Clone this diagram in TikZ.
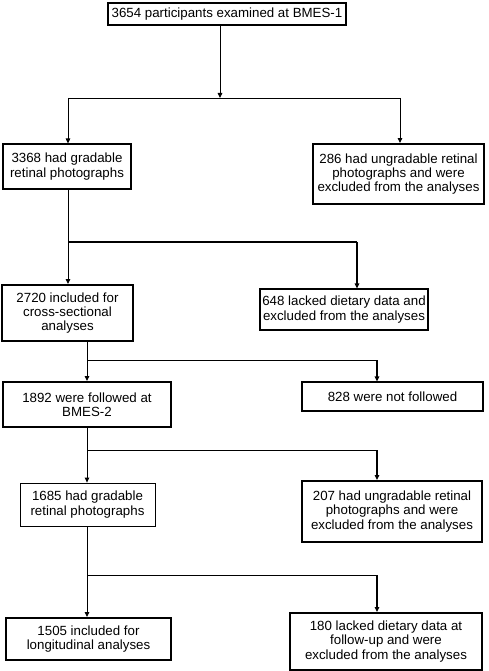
\documentclass[tikz,border=0pt]{standalone}
\usepackage{fontspec}
\setmainfont{Liberation Sans}
\usetikzlibrary{arrows.meta}
\begin{document}
\begin{tikzpicture}[x=1pt,y=-1pt,
  box/.style={draw, line width=1.1pt, inner sep=0pt, align=center,
    font=\fontsize{13.3}{14.3}\selectfont},
  thickbox/.style={box, line width=1.9pt},
  conn/.style={line width=0.9pt},
  arr/.style={conn, -{Triangle[width=4.5pt,length=5pt]}},
  tconn/.style={line width=1.7pt},
  tarr/.style={tconn, -{Triangle[width=4.5pt,length=5pt]}}]
\useasboundingbox (0,0) rectangle (489,671);
% boxes
\node[box, minimum width=238, minimum height=22] (b1) at (227,14) {3654 participants examined at BMES-1};
\node[box, minimum width=128, minimum height=45] (b2) at (67,166.5) {3368 had gradable\\retinal photographs};
\node[thickbox, minimum width=171, minimum height=60] (b3) at (398.5,174) {286 had ungradable retinal\\photographs and were\\excluded from the analyses};
\node[thickbox, minimum width=131, minimum height=56] (b4) at (67.5,313) {2720 included for\\cross-sectional\\analyses};
\node[box, minimum width=168, minimum height=41] (b5) at (344,309.5) {648 lacked dietary data and\\excluded from the analyses};
\node[thickbox, minimum width=168, minimum height=45] (b6) at (87,404.5) {1892 were followed at\\BMES-2};
\node[box, minimum width=181, minimum height=29] (b7) at (392.5,396.5) {828 were not followed};
\node[box, line width=0.8pt, minimum width=135, minimum height=43] (b8) at (87.5,504.5) {1685 had gradable\\retinal photographs};
\node[thickbox, minimum width=180, minimum height=61] (b9) at (392,511.5) {207 had ungradable retinal\\photographs and were\\excluded from the analyses};
\node[thickbox, minimum width=165, minimum height=42] (b10) at (88.5,639) {1505 included for\\longitudinal analyses};
\node[thickbox, minimum width=192, minimum height=57] (b11) at (386,641.5) {180 lacked dietary data at\\follow-up and were\\excluded from the analyses};
% junctions
\coordinate (j1) at (220,98);
\coordinate (j1l) at (68,98);
\coordinate (j1r) at (400,98);
\coordinate (j2l) at (68,242);
\coordinate (j2r) at (357,242);
\coordinate (j3l) at (87,360);
\coordinate (j3r) at (377,360);
\coordinate (j4l) at (87,450);
\coordinate (j4r) at (377,450);
\coordinate (j5l) at (87,575);
\coordinate (j5r) at (377,575);
% connectors
\draw[arr] (b1.south -| j1) -- (j1);
\draw[conn] (j1l) -- (j1r);
\draw[arr] (j1l) -- (j1l |- b2.north);
\draw[arr] (j1r) -- (j1r |- b3.north);

\draw[conn] (b2.south -| j2l) -- (j2l);
\draw[tconn] (j2l) -- (j2r);
\draw[arr] (j2l) -- (j2l |- b4.north);
\draw[tarr] (j2r) -- (j2r |- b5.north);

\draw[conn] (b4.south -| j3l) -- (j3l);
\draw[conn] (j3l) -- (j3r);
\draw[arr] (j3l) -- (j3l |- b6.north);
\draw[tarr] (j3r) -- (j3r |- b7.north);

\draw[conn] (b6.south -| j4l) -- (j4l);
\draw[conn] (j4l) -- (j4r);
\draw[arr] (j4l) -- (j4l |- b8.north);
\draw[tarr] (j4r) -- (j4r |- b9.north);

\draw[conn] (b8.south -| j5l) -- (j5l);
\draw[conn] (j5l) -- (j5r);
\draw[arr] (j5l) -- (j5l |- b10.north);
\draw[tarr] (j5r) -- (j5r |- b11.north);
\end{tikzpicture}
\end{document}
